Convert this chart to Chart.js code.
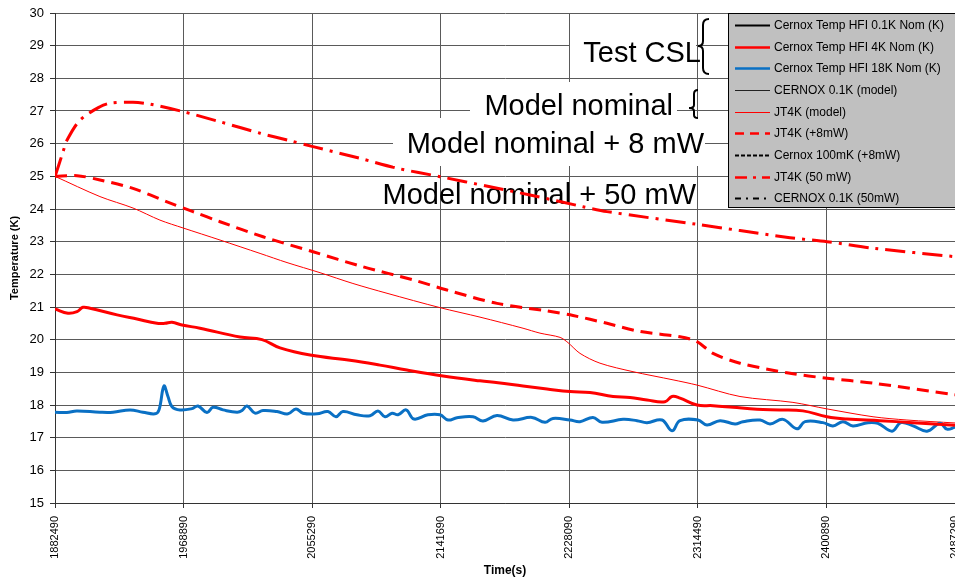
<!DOCTYPE html>
<html>
<head>
<meta charset="utf-8">
<script src="https://cdn.jsdelivr.net/npm/chart.js@4.4.0/dist/chart.umd.min.js"></script>
<style>
  html, body { margin: 0; padding: 0; background: #fff; overflow: hidden; }
  #wrap { width: 955px; height: 581px; }
</style>
</head>
<body>
<div id="wrap"><canvas id="chart"></canvas></div>
<script>
// axes
const xTicks = [1882490, 1968890, 2055290, 2141690, 2228090, 2314490, 2400890, 2487290];
const yTicks = [15, 16, 17, 18, 19, 20, 21, 22, 23, 24, 25, 26, 27, 28, 29, 30];

// [time (s), temperature (K)]
const hfi18K = [
  [1882490,17.78],[1890400,17.77],[1897100,17.82],[1912700,17.78],[1921500,17.78],[1932900,17.85],
  [1941600,17.78],[1949700,17.73],[1952400,17.85],[1955700,18.58],[1958400,18.26],[1961100,17.95],
  [1966500,17.85],[1974600,17.89],[1978600,17.97],[1984600,17.77],[1988700,17.93],[1995400,17.85],
  [2004800,17.78],[2008200,17.83],[2011500,17.97],[2016900,17.75],[2022300,17.83],[2031700,17.80],
  [2039100,17.73],[2044400,17.88],[2049100,17.75],[2058600,17.73],[2065900,17.80],[2071300,17.64],
  [2076000,17.80],[2085400,17.70],[2094200,17.67],[2099500,17.82],[2104300,17.64],[2109000,17.75],
  [2113000,17.70],[2118400,17.85],[2123700,17.57],[2133100,17.70],[2141200,17.70],[2146600,17.54],
  [2152600,17.61],[2163400,17.64],[2170100,17.51],[2179500,17.68],[2190300,17.54],[2203000,17.62],
  [2211800,17.47],[2217100,17.59],[2228600,17.54],[2235300,17.49],[2244000,17.62],[2250100,17.47],
  [2264200,17.56],[2273600,17.52],[2280300,17.46],[2290400,17.54],[2297100,17.21],[2302500,17.52],
  [2314600,17.54],[2320600,17.39],[2329400,17.52],[2339500,17.42],[2344800,17.49],[2356300,17.54],
  [2363000,17.42],[2371700,17.56],[2381100,17.27],[2386500,17.49],[2398600,17.46],[2405300,17.36],
  [2412000,17.49],[2418700,17.36],[2428800,17.46],[2435500,17.44],[2445000,17.20],[2451000,17.46],
  [2459100,17.36],[2468500,17.20],[2477200,17.44],[2481900,17.26],[2487290,17.32]
];
const hfi4K = [
  [1882490,20.94],[1891200,20.81],[1897300,20.86],[1901300,20.99],[1906000,20.96],[1924200,20.76],
  [1937600,20.63],[1951000,20.50],[1956400,20.50],[1961100,20.53],[1967800,20.45],[1979900,20.35],
  [2006800,20.08],[2021600,20.00],[2033700,19.75],[2053900,19.53],[2080700,19.37],[2100900,19.22],
  [2119000,19.07],[2143200,18.89],[2168100,18.74],[2180200,18.68],[2197000,18.58],[2213100,18.49],
  [2228600,18.41],[2242000,18.38],[2257500,18.26],[2268900,18.23],[2280300,18.15],[2292400,18.10],
  [2297100,18.26],[2302500,18.21],[2313900,18.00],[2324700,17.98],[2338100,17.93],[2354200,17.87],
  [2369700,17.85],[2385100,17.82],[2401300,17.64],[2414700,17.57],[2436900,17.52],[2459100,17.46],
  [2487290,17.38]
];
const jt4kModel = [
  [1882490,25.00],[1912700,24.38],[1934900,24.03],[1953000,23.66],[1968500,23.42],[1993400,23.05],
  [2020300,22.64],[2038400,22.36],[2060600,22.05],[2082700,21.72],[2105600,21.42],[2141200,20.98],
  [2168100,20.69],[2197000,20.35],[2208400,20.20],[2221900,20.07],[2227200,19.91],[2235300,19.58],
  [2248700,19.28],[2270900,19.02],[2297800,18.77],[2313900,18.61],[2342800,18.26],[2378400,18.08],
  [2401300,17.88],[2432200,17.64],[2455000,17.54],[2487290,17.45]
];
const jt4k8mW = [
  [1882490,25.00],[1897300,25.02],[1912700,24.89],[1934900,24.63],[1957800,24.22],[1975200,23.92],
  [1993400,23.61],[2022300,23.15],[2055900,22.69],[2089500,22.23],[2123100,21.83],[2145900,21.52],
  [2179500,21.11],[2213100,20.88],[2230600,20.74],[2253400,20.50],[2275600,20.25],[2302500,20.09],
  [2313900,19.94],[2324700,19.58],[2342800,19.28],[2376400,18.97],[2401300,18.82],[2432200,18.67],
  [2487290,18.31]
];
const jt4k50mW = [
  [1882490,24.99],[1887900,25.75],[1890600,26.11],[1899300,26.72],[1912700,27.13],[1919500,27.24],
  [1934900,27.27],[1946300,27.21],[1968500,26.98],[1993400,26.67],[2020300,26.32],[2040400,26.09],
  [2055900,25.91],[2087500,25.55],[2112300,25.25],[2141200,24.99],[2174800,24.68],[2201700,24.43],
  [2237300,24.07],[2253400,23.92],[2313900,23.53],[2342800,23.34],[2376400,23.12],[2401300,23.00],
  [2432200,22.80],[2487290,22.54]
];
// 0.1 K curves lie far below the axis range, no points in view
const hfi01K = [];
const cernoxModel = [];
const cernox8mW = [];
const cernox50mW = [];

const FONT = "'Liberation Sans', Arial, sans-serif";
Chart.defaults.font.family = FONT;
Chart.defaults.color = '#000';

const pts = arr => arr.map(p => ({ x: p[0], y: p[1] }));

const datasets = [
  { label: 'Cernox Temp HFI 0.1K Nom (K)', data: pts(hfi01K), borderColor: '#000', borderWidth: 2, legendWidth: 2 },
  { label: 'Cernox Temp HFI 4K Nom (K)', data: pts(hfi4K), borderColor: '#ff0000', borderWidth: 3, tension: 0.4, legendWidth: 2.5 },
  { label: 'Cernox Temp HFI 18K Nom (K)', data: pts(hfi18K), borderColor: '#0a70c4', borderWidth: 3, tension: 0.4, legendWidth: 2.5 },
  { label: 'CERNOX 0.1K (model)', data: pts(cernoxModel), borderColor: '#222', borderWidth: 1, legendWidth: 1 },
  { label: 'JT4K (model)', data: pts(jt4kModel), borderColor: '#ff0000', borderWidth: 1, tension: 0.3, legendWidth: 1 },
  { label: 'JT4K (+8mW)', data: pts(jt4k8mW), borderColor: '#ff0000', borderWidth: 3, borderDash: [12, 7], tension: 0.3, legendWidth: 2.5, legendDash: [9, 6] },
  { label: 'Cernox 100mK (+8mW)', data: pts(cernox8mW), borderColor: '#000', borderWidth: 2, borderDash: [4, 2], legendWidth: 2, legendDash: [4, 2] },
  { label: 'JT4K (50 mW)', data: pts(jt4k50mW), borderColor: '#ff0000', borderWidth: 3, borderDash: [20, 7, 3, 7], tension: 0.3, legendWidth: 2.5, legendDash: [12, 6, 3, 6] },
  { label: 'CERNOX 0.1K (50mW)', data: pts(cernox50mW), borderColor: '#000', borderWidth: 2, borderDash: [6, 5, 2, 5], legendWidth: 2, legendDash: [6, 5, 2, 5] }
];
datasets.forEach(d => { d.pointRadius = 0; d.fill = false; });

// text boxes written on the plot
const notes = {
  id: 'notes',
  beforeDatasetsDraw(chart) {
    const c = chart.ctx;
    c.save();
    c.font = '29px ' + FONT;
    c.fillStyle = '#000';
    c.textAlign = 'right';
    c.fillText('Model nominal + 50 mW', 696, 204);
    c.restore();
  },
  afterDatasetsDraw(chart) {
    const c = chart.ctx;
    c.save();
    c.fillStyle = '#fff';
    c.fillRect(570, 14, 126, 64);
    c.fillRect(470, 82, 207, 36);
    c.fillRect(393, 118, 312, 48);
    c.fillStyle = '#000';
    c.font = '29px ' + FONT;
    c.textAlign = 'right';
    c.fillText('Test CSL', 701, 62);
    c.fillText('Model nominal', 673, 115);
    c.fillText('Model nominal + 8 mW', 704, 153);
    c.strokeStyle = '#000';
    c.lineWidth = 2;
    c.beginPath();
    c.moveTo(709, 19); c.quadraticCurveTo(703, 19, 703, 25);
    c.lineTo(703, 41); c.quadraticCurveTo(703, 46, 698, 46);
    c.quadraticCurveTo(703, 46, 703, 51);
    c.lineTo(703, 68); c.quadraticCurveTo(703, 74, 709, 74);
    c.stroke();
    c.beginPath();
    c.moveTo(698, 90); c.quadraticCurveTo(694, 90, 694, 94);
    c.lineTo(694, 105); c.quadraticCurveTo(694, 108, 689, 108);
    c.quadraticCurveTo(694, 108, 694, 111);
    c.lineTo(694, 115); c.quadraticCurveTo(694, 118, 698, 118);
    c.stroke();
    c.restore();

    // legend box
    c.save();
    c.fillStyle = '#c0c0c0';
    c.fillRect(728.5, 13.5, 240, 194);
    c.strokeStyle = '#000';
    c.lineWidth = 1;
    c.strokeRect(728.5, 13.5, 240, 194);
    c.font = '12px ' + FONT;
    c.textBaseline = 'middle';
    chart.data.datasets.forEach((d, i) => {
      const y = Math.round(25 + i * 21.67) + 0.5;
      c.strokeStyle = d.borderColor;
      c.lineWidth = d.legendWidth;
      c.setLineDash(d.legendDash || []);
      c.beginPath();
      c.moveTo(735, y); c.lineTo(770, y);
      c.stroke();
      c.setLineDash([]);
      c.fillStyle = '#000';
      c.fillText(d.label, 774, y);
    });
    c.restore();
  }
};

new Chart(document.getElementById('chart'), {
  type: 'line',
  data: { datasets },
  plugins: [notes],
  options: {
    responsive: true,
    maintainAspectRatio: false,
    animation: false,
    layout: { padding: { top: 13, left: 0, right: 0, bottom: 0 } },
    plugins: { legend: { display: false }, tooltip: { enabled: false } },
    scales: {
      x: {
        type: 'linear',
        min: xTicks[0],
        max: xTicks[xTicks.length - 1],
        afterBuildTicks: s => { s.ticks = xTicks.map(v => ({ value: v })); },
        afterFit: s => { s.height = 78; s.paddingLeft = 0; s.paddingRight = 0; },
        ticks: {
          minRotation: 90, maxRotation: 90, autoSkip: false, padding: 8,
          font: { size: 11 }, color: '#000',
          callback: v => String(v)
        },
        grid: { color: '#5a5a5a', lineWidth: 1, tickLength: 5, tickColor: '#333' },
        border: { color: '#333' },
        title: { display: true, text: 'Time(s)', font: { size: 12, weight: 'bold' }, color: '#000', padding: { top: 2, bottom: 3 } }
      },
      y: {
        min: yTicks[0],
        max: yTicks[yTicks.length - 1],
        afterBuildTicks: s => { s.ticks = yTicks.map(v => ({ value: v })); },
        afterFit: s => { s.width = 55; s.paddingTop = 0; s.paddingBottom = 0; },
        ticks: { padding: 6, font: { size: 13 }, color: '#000' },
        grid: { color: '#5a5a5a', lineWidth: 1, tickLength: 5, tickColor: '#333' },
        border: { color: '#333' },
        title: { display: true, text: 'Temperature (K)', font: { size: 11, weight: 'bold' }, color: '#000', padding: { top: 8, bottom: 0 } }
      }
    }
  }
});
</script>
</body>
</html>
